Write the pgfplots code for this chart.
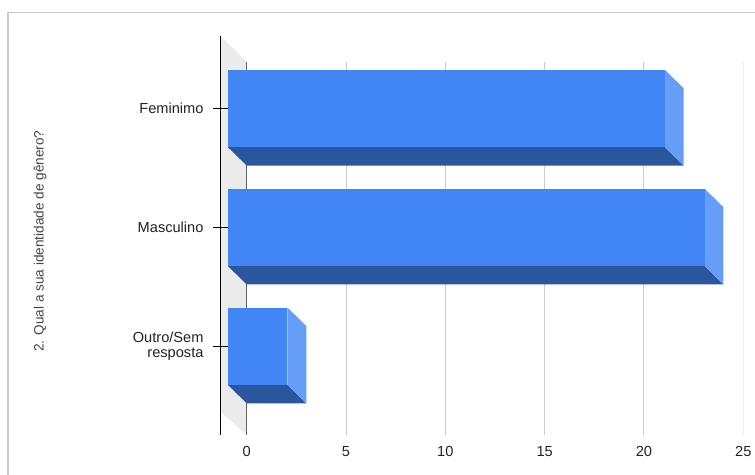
\documentclass[border=0pt]{standalone}
\usepackage{pgfplots}
\pgfplotsset{compat=1.18}
\usepackage{fontspec}
\setmainfont{Liberation Sans}

\definecolor{barfront}{HTML}{4285F4}
\definecolor{barside}{HTML}{669DF6}
\definecolor{barbottom}{HTML}{2A569E}
\definecolor{wallgray}{HTML}{EBEBEB}
\definecolor{gridgray}{HTML}{CCCCCC}
\definecolor{zerogray}{HTML}{666666}
\definecolor{framegray}{HTML}{C8C8C8}
\definecolor{labeltext}{HTML}{222222}
\definecolor{titletext}{HTML}{444444}

% depth of the 3D extrusion (x in data units, y in category units)
\newcommand{\dx}{0.95}
\newcommand{\dy}{0.155}
% half height of the front face of a bar
\newcommand{\hh}{0.325}

% one extruded horizontal bar: #1 = category position, #2 = value
\newcommand{\threedbar}[2]{%
  \pgfmathsetmacro{\xf}{-\dx}%
  \pgfmathsetmacro{\xr}{#2-\dx}%
  \pgfmathsetmacro{\yt}{#1-\hh}%
  \pgfmathsetmacro{\yb}{#1+\hh}%
  \pgfmathsetmacro{\ytd}{#1-\hh+\dy}%
  \pgfmathsetmacro{\ybd}{#1+\hh+\dy}%
  \edef\barcmds{%
    \noexpand\addplot[draw=none, fill=barbottom] coordinates {(\xf,\yb) (\xr,\yb) (#2,\ybd) (0,\ybd)};%
    \noexpand\addplot[draw=none, fill=barside] coordinates {(\xr,\yt) (#2,\ytd) (#2,\ybd) (\xr,\yb)};%
    \noexpand\addplot[draw=none, fill=barfront] coordinates {(\xf,\yt) (\xr,\yt) (\xr,\yb) (\xf,\yb)};%
  }%
  \barcmds
}

\begin{document}
\begin{tikzpicture}
\path[use as bounding box] (0pt,0pt) rectangle (755pt,474pt);
\draw[framegray, line width=1.5pt] (8pt,-1pt) -- (8pt,461.7pt) -- (756pt,461.7pt);
\begin{axis}[
  at={(220.5pt,39pt)}, anchor=south west,
  scale only axis, width=522.8pt, height=399pt,
  xmin=-1.319, xmax=25, ymin=-0.610, ymax=2.747,
  y dir=reverse,
  axis lines=left, axis line style={-},
  x axis line style={draw=none},
  y axis line style={black, line width=1pt},
  axis on top,
  xtick={0,5,...,25},
  major x tick style={draw=none},
  ytick={0,1,2},
  yticklabels={Feminimo, Masculino, {Outro/Sem\\resposta}},
  y tick style={black, line width=0.9pt},
  major tick length=15pt,
  tick align=center,
  /pgf/number format/assume math mode=true,
  ticklabel style={font=\fontsize{14.6}{15.5}\selectfont, text=labeltext},
  yticklabel style={align=right, xshift=-6pt},
  xticklabel style={yshift=-0.5pt},
  ylabel={2. Qual a sua identidade de gênero?},
  ylabel style={at={(axis description cs:-0.3453,0.486)}, anchor=center,
    font=\fontsize{13.6}{15}\selectfont, text=titletext},
]
  % back wall on the left
  \addplot[draw=none, fill=wallgray] coordinates {(-1.319,-0.610) (0,-0.394) (0,2.747) (-1.319,2.551)};
  % vertical grid lines on the back plane
  \addplot[gridgray, line width=1pt] coordinates {(5,-0.394) (5,2.747)};
  \addplot[gridgray, line width=1pt] coordinates {(10,-0.394) (10,2.747)};
  \addplot[gridgray, line width=1pt] coordinates {(15,-0.394) (15,2.747)};
  \addplot[gridgray, line width=1pt] coordinates {(20,-0.394) (20,2.747)};
  \addplot[gridgray, line width=1pt] coordinates {(25,-0.394) (25,2.747)};
  \addplot[zerogray, line width=1pt] coordinates {(0,-0.394) (0,2.747)};
  % bars
  \threedbar{0}{22}
  \threedbar{1}{24}
  \threedbar{2}{3}
\end{axis}
\end{tikzpicture}
\end{document}
